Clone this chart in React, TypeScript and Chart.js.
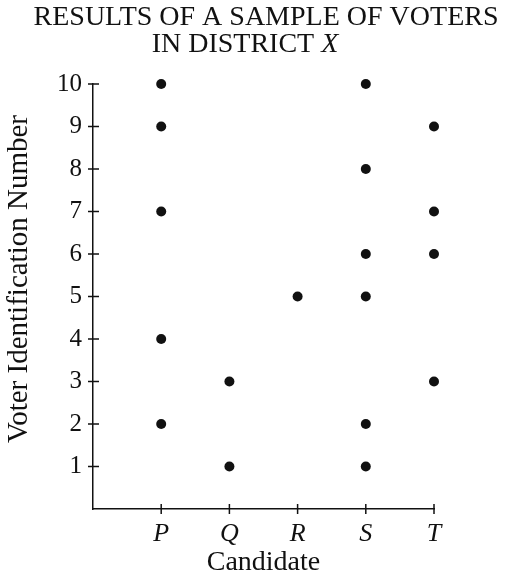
import React, { useEffect, useRef } from "react";
import { Chart, registerables } from "chart.js";

Chart.register(...registerables);

const candidates = ["P", "Q", "R", "S", "T"];
const votersP = [2, 4, 7, 9, 10];
const votersQ = [1, 3];
const votersR = [5];
const votersS = [1, 2, 5, 6, 8, 10];
const votersT = [3, 6, 7, 9];
const yTicks = [1, 2, 3, 4, 5, 6, 7, 8, 9, 10];
const titleLine1 = "RESULTS OF A SAMPLE OF VOTERS";
const titleLine2a = "IN DISTRICT ";
const titleLine2b = "X";
const yAxisTitle = "Voter Identification Number";
const xAxisTitle = "Candidate";

const FONT = "'Liberation Serif', 'Times New Roman', serif";
const INK = "#111111";

export default function App() {
  const ref = useRef<HTMLCanvasElement | null>(null);

  useEffect(() => {
    if (!ref.current) return;
    const groups = [votersP, votersQ, votersR, votersS, votersT];
    const points: { x: number; y: number }[] = [];
    groups.forEach((g, i) => g.forEach((v) => points.push({ x: i + 1, y: v })));

    const decor = {
      id: "decor",
      afterDraw(chart: any) {
        const ctx = chart.ctx as CanvasRenderingContext2D;
        const xs = chart.scales.x;
        const ys = chart.scales.y;
        ctx.save();
        ctx.strokeStyle = INK;
        ctx.lineWidth = 1.5;
        const ax = xs.left;
        const ay = ys.bottom;
        yTicks.forEach((t) => {
          const py = ys.getPixelForValue(t);
          ctx.beginPath();
          ctx.moveTo(ax - 5, py);
          ctx.lineTo(ax + 6, py);
          ctx.stroke();
        });
        candidates.forEach((_, i) => {
          const px = xs.getPixelForValue(i + 1);
          ctx.beginPath();
          ctx.moveTo(px, ay - 5);
          ctx.lineTo(px, ay + 5);
          ctx.stroke();
        });
        // chart title
        ctx.fillStyle = INK;
        ctx.textBaseline = "alphabetic";
        ctx.textAlign = "left";
        ctx.font = `28px ${FONT}`;
        const w1 = ctx.measureText(titleLine1).width;
        ctx.fillText(titleLine1, 266 - w1 / 2, 25);
        const wa = ctx.measureText(titleLine2a).width;
        ctx.font = `italic 28px ${FONT}`;
        const wb = ctx.measureText(titleLine2b).width;
        const start = 245 - (wa + wb) / 2;
        ctx.font = `28px ${FONT}`;
        ctx.fillText(titleLine2a, start, 52);
        ctx.font = `italic 28px ${FONT}`;
        ctx.fillText(titleLine2b, start + wa, 52);
        // y axis title
        ctx.translate(19, 279);
        ctx.rotate(-Math.PI / 2);
        ctx.font = `29px ${FONT}`;
        ctx.textAlign = "center";
        ctx.textBaseline = "middle";
        ctx.fillText(yAxisTitle, 0, 0);
        ctx.restore();
      },
    };

    const chart = new Chart(ref.current, {
      type: "scatter",
      data: {
        datasets: [
          {
            data: points,
            backgroundColor: INK,
            borderColor: INK,
            pointRadius: 5,
            pointHoverRadius: 5,
            borderWidth: 0,
            clip: false as any,
          },
        ],
      },
      options: {
        responsive: false,
        animation: false,
        layout: { padding: { top: 84, right: 73, bottom: 0, left: 0 } },
        plugins: { legend: { display: false }, tooltip: { enabled: false }, title: { display: false } },
        scales: {
          x: {
            type: "linear",
            min: 0,
            max: 5,
            afterBuildTicks: (s: any) => {
              s.ticks = candidates.map((_, i) => ({ value: i + 1 }));
            },
            afterFit: (s: any) => {
              s.height = 66;
            },
            ticks: {
              autoSkip: false,
              maxRotation: 0,
              padding: 2,
              color: INK,
              font: { family: FONT, size: 26, style: "italic" },
              callback: (v: any) => candidates[Number(v) - 1] ?? "",
            },
            grid: { display: false },
            border: { display: true, color: INK, width: 1.5 },
            title: {
              display: true,
              text: xAxisTitle,
              color: INK,
              font: { family: FONT, size: 28 },
              padding: { top: 0, bottom: -4 },
            },
          },
          y: {
            type: "linear",
            min: 0,
            max: 10,
            afterBuildTicks: (s: any) => {
              s.ticks = yTicks.map((v) => ({ value: v }));
            },
            afterFit: (s: any) => {
              s.width = 93;
            },
            ticks: {
              autoSkip: false,
              padding: 3,
              color: INK,
              font: { family: FONT, size: 25 },
            },
            grid: { display: false },
            border: { display: true, color: INK, width: 1.5 },
            title: { display: false },
          },
        },
      },
      plugins: [decor],
    });
    return () => chart.destroy();
  }, []);

  return (
    <div style={{ position: "absolute", left: 0, top: 0, width: 507, height: 575, background: "#fff" }}>
      <canvas ref={ref} width={507} height={575} style={{ display: "block" }} />
    </div>
  );
}
